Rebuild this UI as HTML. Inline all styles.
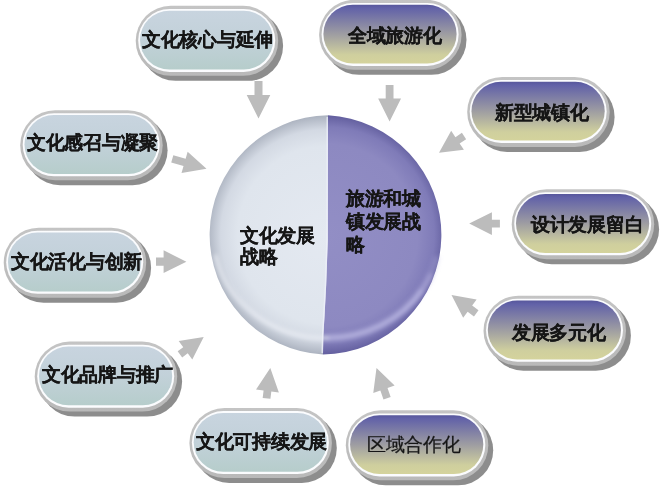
<!DOCTYPE html>
<html><head><meta charset="utf-8"><style>
html,body{margin:0;padding:0;background:#fff;width:662px;height:489px;overflow:hidden}
svg{position:absolute;left:0;top:0}
.t{position:absolute;font-family:"Liberation Sans",sans-serif;font-size:19px;line-height:1;white-space:nowrap;color:#161616;transform:scale(0.985);transform-origin:0 0}
.r{-webkit-text-stroke:0.25px #161616}
.b{font-weight:bold;-webkit-text-stroke:0.22px #161616}
</style></head><body>
<svg width="662" height="489" viewBox="0 0 662 489">
<defs>
<linearGradient id="gb" x1="0" y1="0" x2="0" y2="1"><stop offset="0" stop-color="#c8d4df"/><stop offset="0.5" stop-color="#c2d1d9"/><stop offset="1" stop-color="#b6cdcb"/></linearGradient>
<linearGradient id="gp" x1="0" y1="0" x2="0" y2="1"><stop offset="0" stop-color="#57579c"/><stop offset="0.06" stop-color="#6262a8"/><stop offset="0.5" stop-color="#9e9da2"/><stop offset="0.85" stop-color="#cfcf9e"/><stop offset="1" stop-color="#d4d39c"/></linearGradient>
<linearGradient id="gg" x1="0" y1="0" x2="0" y2="1"><stop offset="0" stop-color="#c4c4c4"/><stop offset="1" stop-color="#b9b9b9"/></linearGradient>
<radialGradient id="cl" cx="326.4" cy="235" r="120" gradientUnits="userSpaceOnUse"><stop offset="0" stop-color="#e4e9f1"/><stop offset="0.74" stop-color="#dfe5ed"/><stop offset="0.88" stop-color="#d3d9e3"/><stop offset="1" stop-color="#aab1be"/></radialGradient><filter id="bl" x="-0.2" y="-0.2" width="1.4" height="1.4"><feGaussianBlur stdDeviation="2.2"/></filter><clipPath id="cc"><ellipse cx="326.4" cy="235" rx="120.1" ry="119.7"/></clipPath>
<radialGradient id="cr" cx="326.4" cy="235" r="120" gradientUnits="userSpaceOnUse"><stop offset="0" stop-color="#928ec5"/><stop offset="0.76" stop-color="#8d89c1"/><stop offset="0.9" stop-color="#7f7bb8"/><stop offset="1" stop-color="#615d9d"/></radialGradient>
</defs>

<path d="M328,115.3 A120.1,119.7 0 0 0 323,354.5 L323.4,335 L324.6,315 L326.2,285 L327.8,240 Z" fill="url(#cl)"/>
<path d="M328,115.3 A120.1,119.7 0 0 1 323,354.5 L323.4,335 L324.6,315 L326.2,285 L327.8,240 Z" fill="url(#cr)"/>
<g clip-path="url(#cc)" filter="url(#bl)"><path d="M436.9,256.4 A113.0,103.0 0 0 1 431.2,273.6" fill="none" stroke="#b0addb" stroke-width="6" opacity="0.35"/><path d="M431.2,273.6 A113.0,103.0 0 0 1 422.2,289.6" fill="none" stroke="#b0addb" stroke-width="6" opacity="0.70"/><path d="M422.2,289.6 A113.0,103.0 0 0 1 326.4,338.0" fill="none" stroke="#b0addb" stroke-width="6" opacity="1.00"/><path d="M326.4,338.0 A113.0,103.0 0 0 1 215.9,256.4" fill="none" stroke="#eef1f7" stroke-width="4" stroke-linecap="round" opacity="0.7"/></g>
<path d="M327.2,117 L327,240 L325.4,285 L323.8,315 L322.6,335 L322.2,353" fill="none" stroke="#eef0fa" stroke-width="1.4" opacity="0.8"/>
<polygon points="258.50,118.50 246.70,95.00 254.50,95.00 254.50,81.00 262.50,81.00 262.50,95.00 270.30,95.00" fill="#bcbcbc"/>
<polygon points="389.60,121.50 378.15,98.40 385.70,98.40 385.70,85.00 393.50,85.00 393.50,98.40 401.05,98.40" fill="#bcbcbc"/>
<polygon points="439.00,152.70 451.18,130.79 455.43,137.15 461.91,132.81 466.14,139.13 459.65,143.47 463.90,149.83" fill="#bcbcbc"/>
<polygon points="469.20,223.60 491.90,212.25 491.90,219.65 499.90,219.65 499.90,227.55 491.90,227.55 491.90,234.95" fill="#bcbcbc"/>
<polygon points="451.50,295.00 476.62,299.57 472.16,305.59 478.50,310.30 473.97,316.40 467.63,311.70 463.16,317.72" fill="#bcbcbc"/>
<polygon points="376.50,367.90 394.61,385.52 387.53,387.99 390.66,396.96 383.49,399.46 380.36,390.49 373.28,392.96" fill="#bcbcbc"/>
<polygon points="270.30,367.90 278.87,392.43 271.32,391.50 270.42,398.85 262.68,397.89 263.58,390.55 256.04,389.62" fill="#bcbcbc"/>
<polygon points="203.70,336.90 192.29,359.55 187.73,353.34 182.17,357.42 177.67,351.30 183.23,347.21 178.68,341.01" fill="#bcbcbc"/>
<polygon points="186.40,261.70 163.60,273.05 163.60,265.80 156.00,265.80 156.00,257.60 163.60,257.60 163.60,250.35" fill="#bcbcbc"/>
<polygon points="206.50,168.70 181.52,173.08 183.54,166.06 171.23,162.53 173.33,155.23 185.63,158.76 187.65,151.74" fill="#bcbcbc"/>
<rect x="140.60" y="10.80" width="142.5" height="70" rx="35.0" fill="#8d8d8d"/>
<rect x="135.70" y="5.80" width="142.5" height="70" rx="35.0" fill="url(#gg)"/>
<rect x="138.20" y="8.90" width="137" height="63" rx="31.5" fill="#fbfcfe"/>
<rect x="140.00" y="10.70" width="133.2" height="58.8" rx="29.4" fill="url(#gb)"/>
<rect x="25.10" y="115.20" width="142.5" height="70" rx="35.0" fill="#8d8d8d"/>
<rect x="20.20" y="110.20" width="142.5" height="70" rx="35.0" fill="url(#gg)"/>
<rect x="22.70" y="113.30" width="137" height="63" rx="31.5" fill="#fbfcfe"/>
<rect x="24.50" y="115.10" width="133.2" height="58.8" rx="29.4" fill="url(#gb)"/>
<rect x="8.60" y="232.70" width="142.5" height="70" rx="35.0" fill="#8d8d8d"/>
<rect x="3.70" y="227.70" width="142.5" height="70" rx="35.0" fill="url(#gg)"/>
<rect x="6.20" y="230.80" width="137" height="63" rx="31.5" fill="#fbfcfe"/>
<rect x="8.00" y="232.60" width="133.2" height="58.8" rx="29.4" fill="url(#gb)"/>
<rect x="39.60" y="346.60" width="142.5" height="70" rx="35.0" fill="#8d8d8d"/>
<rect x="34.70" y="341.60" width="142.5" height="70" rx="35.0" fill="url(#gg)"/>
<rect x="37.20" y="344.70" width="137" height="63" rx="31.5" fill="#fbfcfe"/>
<rect x="39.00" y="346.50" width="133.2" height="58.8" rx="29.4" fill="url(#gb)"/>
<rect x="194.30" y="413.00" width="142.5" height="70" rx="35.0" fill="#8d8d8d"/>
<rect x="189.40" y="408.00" width="142.5" height="70" rx="35.0" fill="url(#gg)"/>
<rect x="191.90" y="411.10" width="137" height="63" rx="31.5" fill="#fbfcfe"/>
<rect x="193.70" y="412.90" width="133.2" height="58.8" rx="29.4" fill="url(#gb)"/>
<rect x="324.00" y="4.80" width="142.5" height="70" rx="35.0" fill="#8d8d8d"/>
<rect x="319.10" y="-0.20" width="142.5" height="70" rx="35.0" fill="url(#gg)"/>
<rect x="321.60" y="2.90" width="137" height="63" rx="31.5" fill="#fbfcfe"/>
<rect x="323.40" y="4.70" width="133.2" height="58.8" rx="29.4" fill="url(#gp)"/>
<rect x="472.10" y="81.90" width="142.5" height="70" rx="35.0" fill="#8d8d8d"/>
<rect x="467.20" y="76.90" width="142.5" height="70" rx="35.0" fill="url(#gg)"/>
<rect x="469.70" y="80.00" width="137" height="63" rx="31.5" fill="#fbfcfe"/>
<rect x="471.50" y="81.80" width="133.2" height="58.8" rx="29.4" fill="url(#gp)"/>
<rect x="516.60" y="194.20" width="142.5" height="70" rx="35.0" fill="#8d8d8d"/>
<rect x="511.70" y="189.20" width="142.5" height="70" rx="35.0" fill="url(#gg)"/>
<rect x="514.20" y="192.30" width="137" height="63" rx="31.5" fill="#fbfcfe"/>
<rect x="516.00" y="194.10" width="133.2" height="58.8" rx="29.4" fill="url(#gp)"/>
<rect x="488.40" y="300.70" width="142.5" height="70" rx="35.0" fill="#8d8d8d"/>
<rect x="483.50" y="295.70" width="142.5" height="70" rx="35.0" fill="url(#gg)"/>
<rect x="486.00" y="298.80" width="137" height="63" rx="31.5" fill="#fbfcfe"/>
<rect x="487.80" y="300.60" width="133.2" height="58.8" rx="29.4" fill="url(#gp)"/>
<rect x="350.70" y="415.30" width="142.5" height="70" rx="35.0" fill="#8d8d8d"/>
<rect x="345.80" y="410.30" width="142.5" height="70" rx="35.0" fill="url(#gg)"/>
<rect x="348.30" y="413.40" width="137" height="63" rx="31.5" fill="#fbfcfe"/>
<rect x="350.10" y="415.20" width="133.2" height="58.8" rx="29.4" fill="url(#gp)"/>
</svg>
<div class="t b" style="left:142.20px;top:29.60px">文化核心与延伸</div>
<div class="t b" style="left:26.60px;top:133.40px">文化感召与凝聚</div>
<div class="t b" style="left:10.80px;top:252.00px">文化活化与创新</div>
<div class="t b" style="left:41.80px;top:365.20px">文化品牌与推广</div>
<div class="t b" style="left:195.50px;top:431.90px">文化可持续发展</div>
<div class="t b" style="left:347.80px;top:26.30px">全域旅游化</div>
<div class="t b" style="left:495.40px;top:102.50px">新型城镇化</div>
<div class="t b" style="left:530.80px;top:215.00px">设计发展留白</div>
<div class="t b" style="left:512.00px;top:322.50px">发展多元化</div>
<div class="t r" style="left:366.60px;top:435.30px">区域合作化</div>
<div class="t b" style="left:240.40px;top:224.50px;line-height:22px">文化发展<br>战略</div>
<div class="t b" style="left:345.60px;top:187.00px;line-height:23.5px">旅游和城<br>镇发展战<br>略</div>
</body></html>
